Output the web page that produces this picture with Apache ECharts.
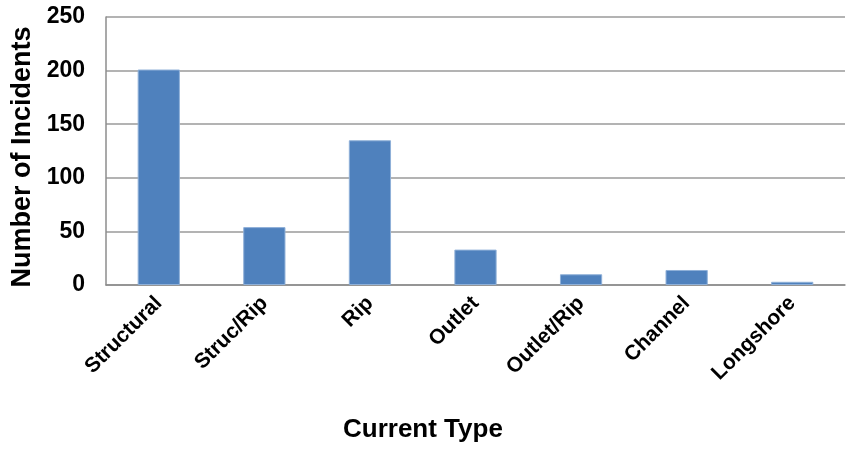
<!DOCTYPE html>
<html>
<head>
<meta charset="utf-8">
<script src="https://cdn.jsdelivr.net/npm/echarts@6/dist/echarts.min.js"></script>
<style>
  html, body { margin: 0; padding: 0; background: #fff; }
  #chart { width: 846px; height: 449px; }
</style>
</head>
<body>
<div id="chart"></div>
<script>
// Incidents by current type
const categories = ['Structural', 'Struc/Rip', 'Rip', 'Outlet', 'Outlet/Rip', 'Channel', 'Longshore'];
const incidents = [201, 54, 135, 33, 10, 14, 3];
const yTicks = [0, 50, 100, 150, 200, 250];

const FONT = '"Liberation Sans", Arial, sans-serif';

const chart = echarts.init(document.getElementById('chart'), null, { renderer: 'canvas' });
chart.setOption({
  animation: false,
  backgroundColor: '#ffffff',
  grid: { left: 106, right: 1, top: 17, bottom: 164, containLabel: false },
  xAxis: {
    type: 'category',
    data: categories,
    axisLine: { show: true, lineStyle: { color: '#8c8c8c', width: 1.5 } },
    axisTick: { show: false },
    axisLabel: {
      rotate: 45,
      margin: 15,
      color: '#000',
      fontFamily: FONT,
      fontWeight: 'bold',
      fontSize: 21
    }
  },
  yAxis: {
    type: 'value',
    min: yTicks[0],
    max: yTicks[yTicks.length - 1],
    interval: yTicks[1] - yTicks[0],
    name: 'Number of Incidents',
    nameLocation: 'middle',
    nameGap: 69,
    nameTextStyle: {
      color: '#000',
      fontFamily: FONT,
      fontWeight: 'bold',
      fontSize: 27,
      padding: [0, 12, 0, 0]
    },
    axisLine: { show: true, lineStyle: { color: '#8c8c8c', width: 1.5 } },
    axisTick: { show: false },
    splitLine: { show: true, lineStyle: { color: '#9a9a9a', width: 1.5 } },
    axisLabel: {
      margin: 21,
      color: '#000',
      fontFamily: FONT,
      fontWeight: 'bold',
      fontSize: 23
    }
  },
  graphic: [{
    type: 'text',
    left: 343,
    top: 417,
    style: {
      text: 'Current Type',
      fill: '#000',
      font: 'bold 26px ' + FONT
    }
  }],
  series: [{
    type: 'bar',
    data: incidents,
    barWidth: '40%',
    itemStyle: {
      color: '#4F81BD',
      borderColor: '#8fb0d8',
      borderWidth: 1
    }
  }]
});
</script>
</body>
</html>
